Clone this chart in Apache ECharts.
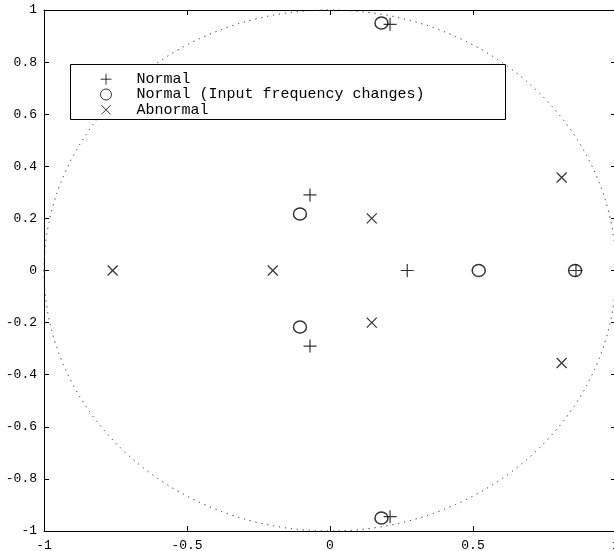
<!DOCTYPE html>
<html><head><meta charset="utf-8">
<script src="https://cdn.jsdelivr.net/npm/echarts@6/dist/echarts.min.js"></script>
<style>html,body{margin:0;padding:0;background:#fff}#c{width:614px;height:551px}</style>
</head><body><div id="c"></div>
<script>
const seriesNames = ['Normal', 'Normal (Input frequency changes)', 'Abnormal'];
const normalX = [0.21, 0.21, -0.07, -0.07, 0.27, 0.86];
const normalY = [0.945, -0.945, 0.29, -0.29, 0, 0];
const inputFreqX = [0.18, 0.18, -0.105, -0.105, 0.52, 0.857];
const inputFreqY = [0.95, -0.95, 0.217, -0.217, 0, 0];
const abnormalX = [-0.76, -0.2, 0.146, 0.146, 0.81, 0.81];
const abnormalY = [0, 0, 0.2, -0.2, 0.357, -0.355];
const circleCenter = [0, 0];
const circleRadius = 1;
const xRange = [-1, 1], xStep = 0.5;
const yRange = [-1, 1], yStep = 0.2;

const FONT = 'Liberation Mono';
const pair = (xs, ys) => xs.map((x, i) => [x, ys[i]]);
const PLUS = 'path://M0,6H12M6,0V12';
const CROSS = 'path://M-1,-1M0,0L10,10M10,0L0,10M11,11';

const axisCommon = {
  type: 'value', splitLine: {show: false},
  axisLine: {onZero: false, lineStyle: {color: '#000', width: 1}},
  axisTick: {inside: true, length: 5, lineStyle: {color: '#000'}},
  axisLabel: {color: '#000', fontFamily: FONT, fontSize: 13}
};

const chart = echarts.init(document.getElementById('c'), null, {renderer: 'canvas'});
chart.setOption({
  backgroundColor: '#fff',
  animation: false,
  grid: {left: 44, top: 10, width: 572, height: 521, containLabel: false, outerBoundsMode: 'none'},
  xAxis: [
    Object.assign({}, axisCommon, {position: 'bottom', min: xRange[0], max: xRange[1], interval: xStep,
      axisLabel: Object.assign({}, axisCommon.axisLabel, {margin: 8})}),
    Object.assign({}, axisCommon, {position: 'top', min: xRange[0], max: xRange[1], interval: xStep,
      axisLabel: {show: false}})
  ],
  yAxis: [
    Object.assign({}, axisCommon, {position: 'left', min: yRange[0], max: yRange[1], interval: yStep,
      axisLabel: Object.assign({}, axisCommon.axisLabel, {margin: 7})}),
    Object.assign({}, axisCommon, {position: 'right', min: yRange[0], max: yRange[1], interval: yStep,
      axisLabel: {show: false}})
  ],
  graphic: [{
    type: 'rect', z: 50,
    shape: {x: 70.5, y: 64.5, width: 435, height: 55},
    style: {fill: '#fff', stroke: '#000', lineWidth: 1}
  }],
  legend: {
    z: 60, orient: 'vertical', left: 100, top: 71.7, padding: 0,
    itemWidth: 11, itemHeight: 11, itemGap: 0.3, selectedMode: false,
    data: seriesNames,
    itemStyle: {borderWidth: 1},
    textStyle: {fontFamily: FONT, fontSize: 15, color: '#000', lineHeight: 15, padding: [0, 0, 0, 20]}
  },
  series: [
    {
      type: 'custom', name: 'unit circle', silent: true,
      data: [[circleCenter[0], circleCenter[1], circleRadius]],
      renderItem: function (params, api) {
        const c = api.coord([api.value(0), api.value(1)]);
        const s = api.size([api.value(2), api.value(2)]);
        const rx = s[0], ry = s[1];
        return {
          type: 'path',
          shape: {
            pathData: 'M' + (c[0] - rx) + ',' + c[1] + ' A' + rx + ',' + ry + ' 0 1 0 ' + (c[0] + rx) + ',' + c[1] +
              ' A' + rx + ',' + ry + ' 0 1 0 ' + (c[0] - rx) + ',' + c[1] + ' Z',
            x: c[0] - rx, y: c[1] - ry, width: 2 * rx, height: 2 * ry, layout: 'cover'
          },
          style: {fill: 'none', stroke: '#222', lineWidth: 1, lineDash: [1.2, 4.8]}
        };
      }
    },
    {
      type: 'scatter', name: seriesNames[0], symbol: PLUS, symbolSize: 13,
      data: pair(normalX, normalY),
      itemStyle: {color: 'transparent', borderColor: '#000', borderWidth: 1.2}
    },
    {
      type: 'scatter', name: seriesNames[1], symbol: 'circle', symbolSize: [13, 12],
      data: pair(inputFreqX, inputFreqY),
      itemStyle: {color: 'transparent', borderColor: '#000', borderWidth: 1.4}
    },
    {
      type: 'scatter', name: seriesNames[2], symbol: CROSS, symbolSize: 12,
      data: pair(abnormalX, abnormalY),
      itemStyle: {color: 'transparent', borderColor: '#000', borderWidth: 1.2}
    }
  ]
});
</script>
</body></html>
